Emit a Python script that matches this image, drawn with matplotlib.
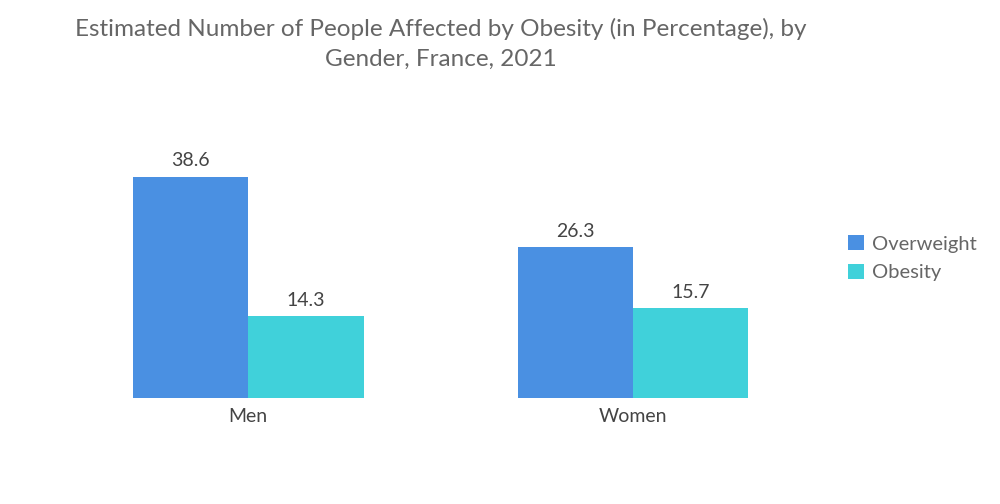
import matplotlib
matplotlib.use("Agg")
import matplotlib.pyplot as plt
import numpy as np

# Chart data
genders = ["Men", "Women"]
overweight = [38.6, 26.3]
obesity = [14.3, 15.7]
series_names = ["Overweight", "Obesity"]
colors = ["#4a90e2", "#40d1da"]

plt.rcParams['font.family'] = ['Lato', 'DejaVu Sans']

fig = plt.figure(figsize=(10, 5.04), dpi=100)
ax = fig.add_axes([0.0555, 0.21, 0.77, 0.512])

x = np.arange(len(genders))
w = 0.3
bars_o = ax.bar(x - w / 2, overweight, w, color=colors[0], label=series_names[0])
bars_b = ax.bar(x + w / 2, obesity, w, color=colors[1], label=series_names[1])

# Value labels above bars
for bars in (bars_o, bars_b):
    for b in bars:
        ax.text(b.get_x() + b.get_width() / 2, b.get_height() + 1.3, f"{b.get_height():.1f}",
                ha="center", va="bottom", fontsize=14, color="#444444")

ax.set_xlim(-0.5, 1.5)
ax.set_ylim(0, 45)
ax.set_xticks(x)
ax.set_xticklabels(genders, fontsize=14, color="#444444")
ax.tick_params(axis="x", length=0, pad=7)
ax.set_yticks([])
for sp in ax.spines.values():
    sp.set_visible(False)

# Title
fig.text(0.441, 0.965, "Estimated Number of People Affected by Obesity (in Percentage), by\nGender, France, 2021",
         ha="center", va="top", fontsize=17.5, color="#666666", linespacing=1.55)

# Legend
leg = fig.legend(handles=[bars_o, bars_b], labels=series_names, loc="center left",
                 bbox_to_anchor=(0.83, 0.488), frameon=False, fontsize=14.5,
                 handlelength=0.8, handleheight=0.8, handletextpad=0.4, labelspacing=0.55)
for t in leg.get_texts():
    t.set_color("#666666")

fig.savefig("out.png", dpi=100)
